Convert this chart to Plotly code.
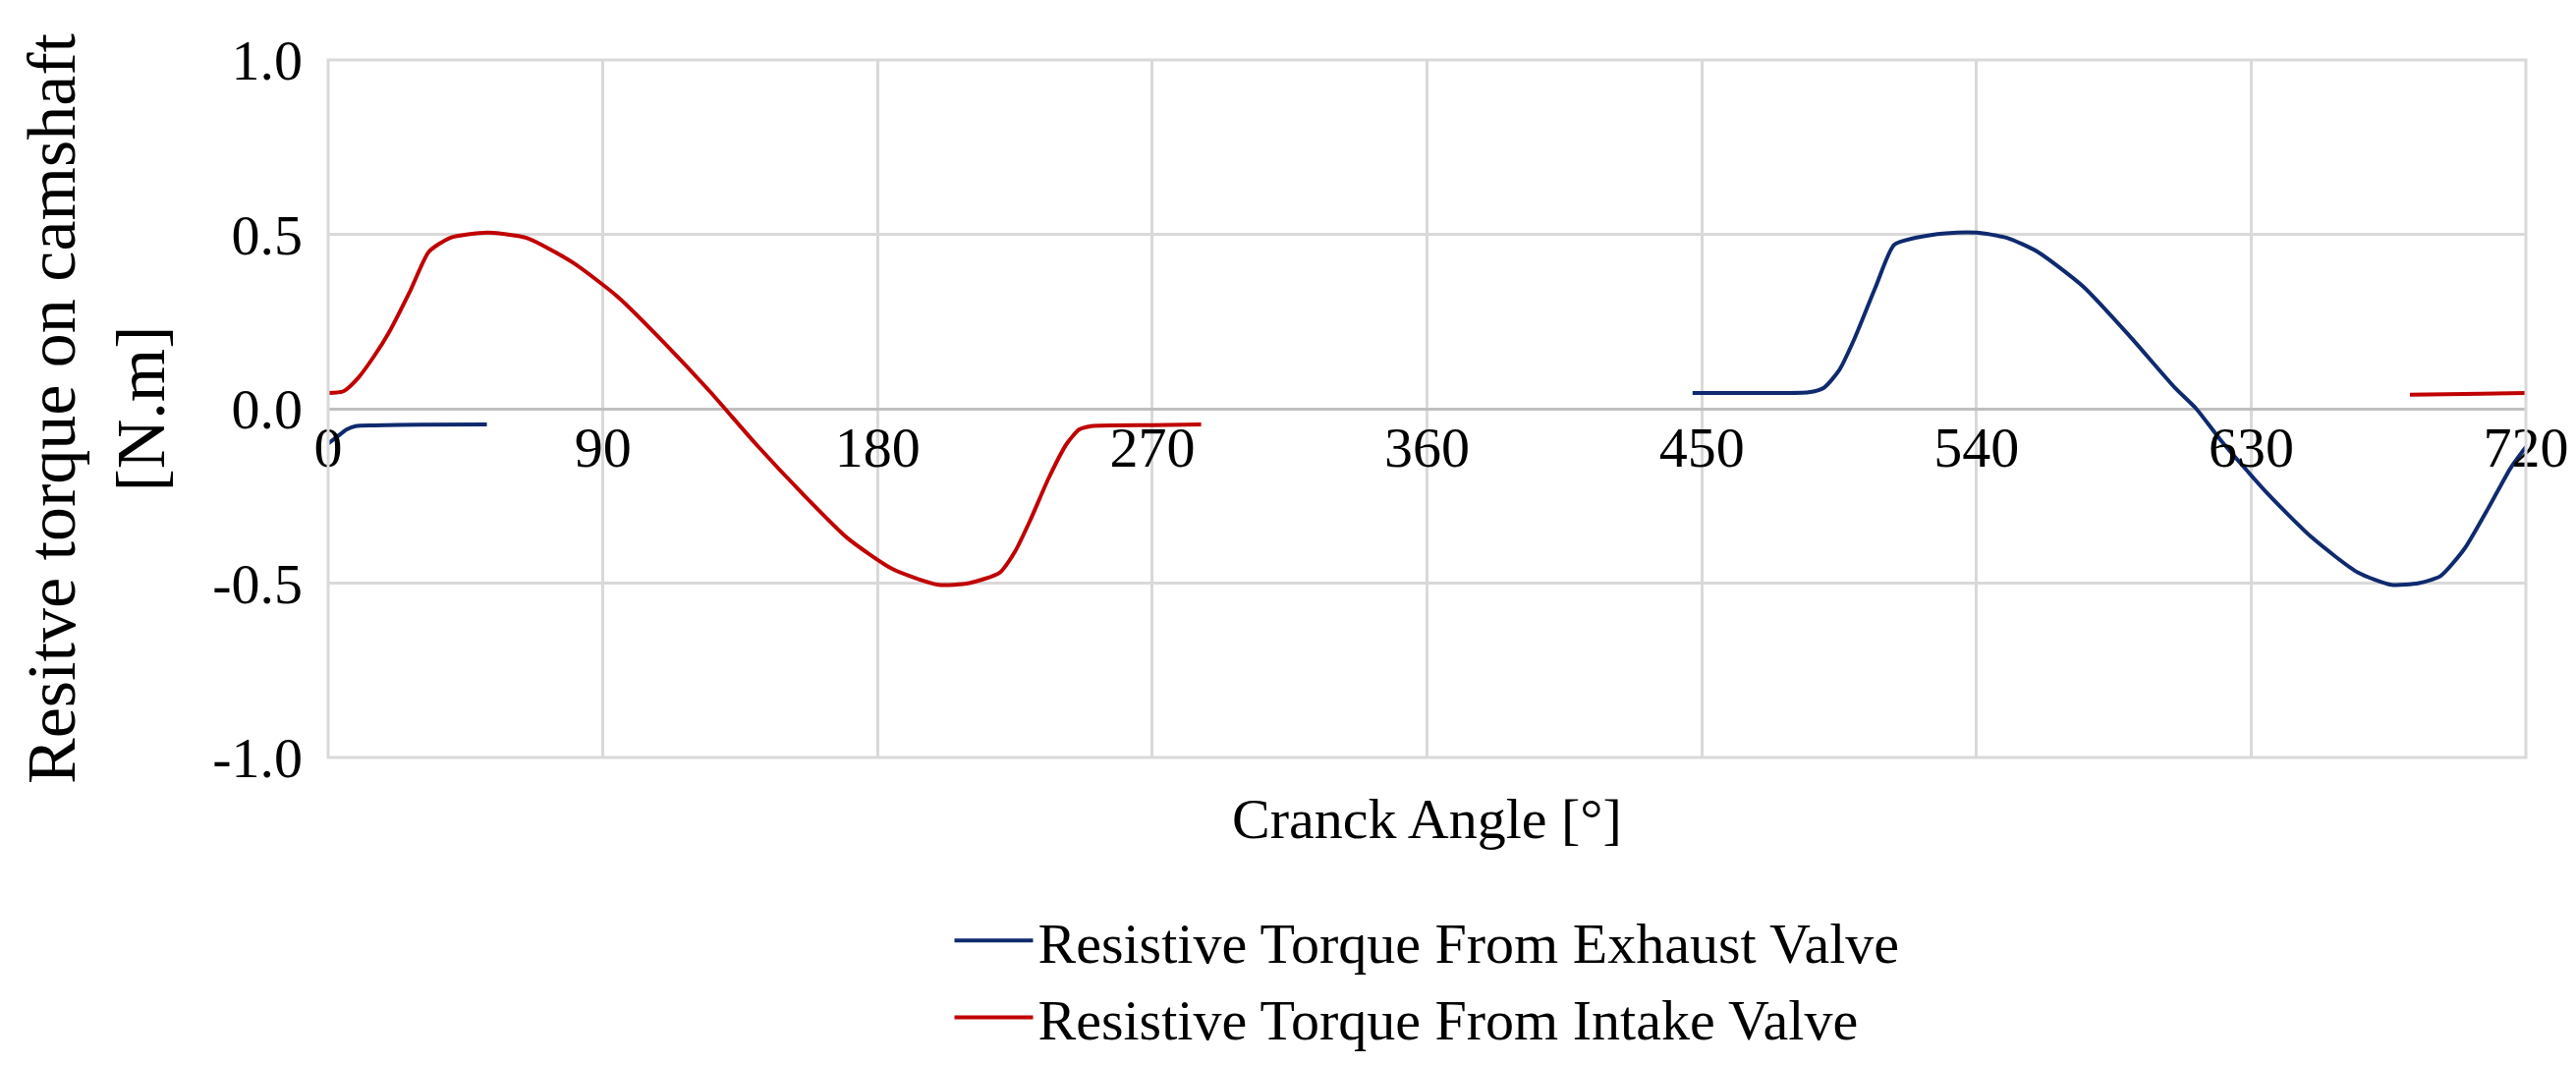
import plotly.graph_objects as go

ex1_x = [0, 3, 6, 9, 15, 30, 52]
ex1_y = [-0.10, -0.08, -0.06, -0.05, -0.048, -0.046, -0.045]
ex2_x = [447, 470, 485, 490, 495, 500, 507, 513, 520, 530, 540, 550, 560, 575, 590, 605, 612, 620, 635, 650, 665, 676, 685, 692, 700, 708, 715, 720]
ex2_y = [0.045, 0.045, 0.047, 0.06, 0.11, 0.2, 0.35, 0.47, 0.49, 0.503, 0.505, 0.49, 0.45, 0.35, 0.21, 0.06, 0.0, -0.09, -0.24, -0.37, -0.47, -0.505, -0.5, -0.48, -0.4, -0.28, -0.17, -0.11]
in1_x = [0, 5, 10, 15, 20, 27, 33, 40, 52, 65, 80, 95, 110, 125, 140, 155, 170, 185, 200, 210, 220, 225, 230, 236, 242, 246, 250, 270, 286]
in1_y = [0.045, 0.05, 0.09, 0.15, 0.22, 0.34, 0.45, 0.49, 0.505, 0.49, 0.42, 0.32, 0.19, 0.05, -0.1, -0.24, -0.37, -0.46, -0.505, -0.5, -0.47, -0.41, -0.32, -0.2, -0.1, -0.06, -0.05, -0.047, -0.045]
in2_x = [682, 700, 720]
in2_y = [0.04, 0.042, 0.045]
x_ticks = [0, 90, 180, 270, 360, 450, 540, 630, 720]
y_ticks = [-1, -0.5, 0, 0.5, 1]
y_labels = ["-1.0", "-0.5", "0.0", "0.5", "1.0"]

blue = "#0f2a6e"
red = "#c00000"
fig = go.Figure()
sm = 0.6
fig.add_trace(go.Scatter(x=ex1_x, y=ex1_y, mode="lines", line=dict(color=blue, width=4, shape="spline", smoothing=sm), name="Resistive Torque From Exhaust Valve", legendgroup="e"))
fig.add_trace(go.Scatter(x=ex2_x, y=ex2_y, mode="lines", line=dict(color=blue, width=4, shape="spline", smoothing=sm), showlegend=False, legendgroup="e"))
fig.add_trace(go.Scatter(x=in1_x, y=in1_y, mode="lines", line=dict(color=red, width=4, shape="spline", smoothing=sm), name="Resistive Torque From Intake Valve", legendgroup="i"))
fig.add_trace(go.Scatter(x=in2_x, y=in2_y, mode="lines", line=dict(color=red, width=4, shape="spline", smoothing=sm), showlegend=False, legendgroup="i"))

font = dict(family="Liberation Serif, DejaVu Serif, serif", size=58, color="black")
fig.update_layout(
    width=2622, height=1084, paper_bgcolor="white", plot_bgcolor="white", font=font,
    margin=dict(l=326, r=59, t=53, b=275),
    xaxis=dict(range=[0, 720], tickvals=x_ticks, showgrid=True, gridcolor="#d9d9d9", gridwidth=3,
               zeroline=False, showline=False, anchor="free", position=0.5, ticks=""),
    yaxis=dict(range=[-1, 1], tickvals=y_ticks, ticktext=y_labels, showgrid=True, gridcolor="#d9d9d9", gridwidth=3,
               zeroline=True, zerolinecolor="#bfbfbf", zerolinewidth=3, ticks="", ticklabelstandoff=25,
               title=dict(text="Resitve torque on camshaft<br>[N.m]", standoff=25)),
    legend=dict(orientation="v", x=0.5, xanchor="center", y=-0.2, yanchor="top", traceorder="normal", font=font, itemwidth=80),
    showlegend=True,
)
fig.add_annotation(text="Cranck Angle [°]", xref="paper", yref="paper", x=0.5, y=-0.04, yanchor="top", showarrow=False, font=font)
fig.add_shape(type="rect", xref="paper", yref="paper", x0=0, x1=1, y0=0, y1=1, line=dict(color="#d9d9d9", width=3))
fig.write_html("out.html")
